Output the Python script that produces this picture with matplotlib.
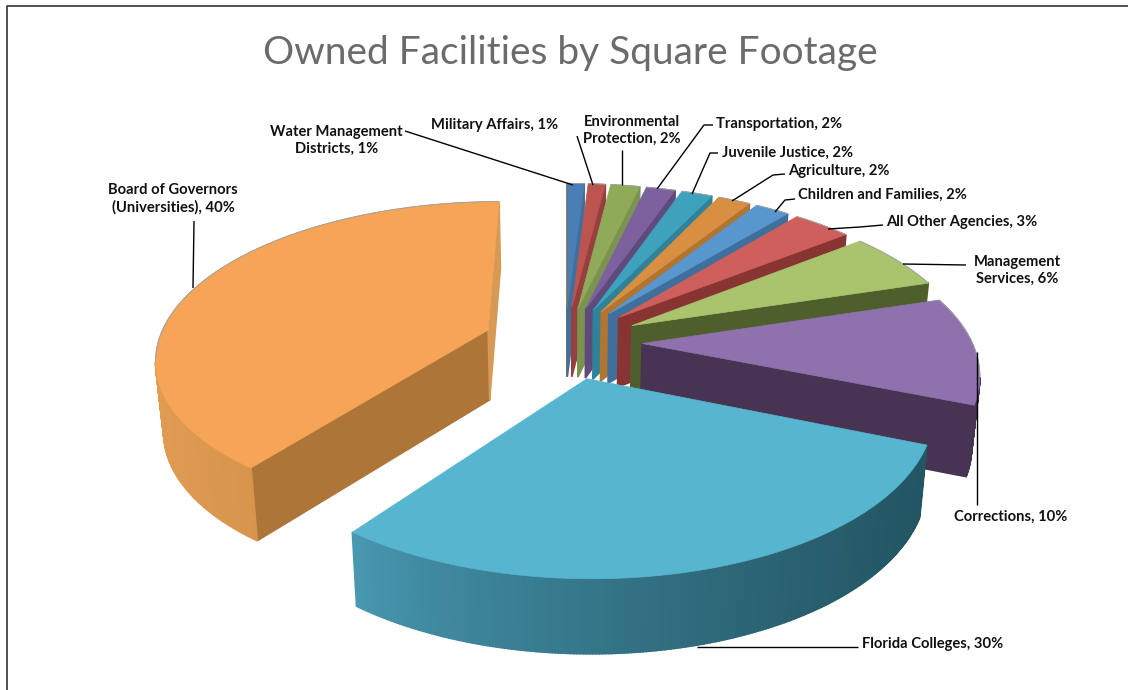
import matplotlib
matplotlib.use('Agg')
import matplotlib.pyplot as plt
import numpy as np
from matplotlib.colors import to_rgb

# Data
agencies = ['Water Management\nDistricts, 1%', 'Military Affairs, 1%', 'Environmental\nProtection, 2%',
            'Transportation, 2%', 'Juvenile Justice, 2%', 'Agriculture, 2%', 'Children and Families, 2%',
            'All Other Agencies, 3%', 'Management\nServices, 6%', 'Corrections, 10%',
            'Florida Colleges, 30%', 'Board of Governors\n(Universities), 40%']
# labels are rounded, the slices themselves read a little differently
shares = [1.0, 1.0, 1.7, 1.7, 1.8, 1.9, 2.0, 3.4, 5.9, 11.0, 29.4, 40.1]

top_colors = ['#4A7FB5', '#BC5450', '#8FAB5A', '#7D619F', '#3FA2BC', '#D98F42',
              '#5896CE', '#CE5F5C', '#A9C46C', '#8F72AD', '#57B5CF', '#F5A555']
cut_colors = ['#3F6F9E', '#96403D', '#7C9350', '#5F4A7C', '#2F8299', '#B07530',
              '#3F6F9C', '#873432', '#4F5F2C', '#463452', '#2A6272', '#D69A55']
start_cut_color = '#AE7538'
wall_left = ['#3F6F9E', '#96403D', '#7C9350', '#5F4A7C', '#2F8299', '#B07530',
             '#3F6F9C', '#873432', '#4F5F2C', '#6A5585', '#4899B2', '#E09C52']
wall_right = ['#3F6F9E', '#96403D', '#7C9350', '#5F4A7C', '#2F8299', '#B07530',
              '#3F6F9C', '#873432', '#4F5F2C', '#463452', '#235563', '#C98A42']

# Label placement in picture pixels: text anchor, alignment, leader path
label_xy = [(403, 140), (558, 125), (632, 130), (716, 124), (722, 153), (788, 171), (798, 195),
            (886, 222), (1061, 270), (1067, 517), (862, 644), (173, 199)]
label_ha = ['right', 'right', 'center', 'left', 'left', 'left', 'left',
            'left', 'right', 'right', 'left', 'center']
leaders = [[(405, 131), (573, 185)], [(577, 136), (593, 185)], [(622, 150), (622, 185)],
           [(713, 125), (704, 125), (657, 189)], [(718, 153), (710, 153), (692, 194)],
           [(785, 174), (773, 175), (732, 201)], [(795, 199), (785, 200), (775, 212)],
           [(883, 225), (860, 227), (828, 229)], [(966, 265), (903, 264)],
           [(977, 352), (977, 505)], [(858, 647), (697, 647)], [(193, 288), (194, 221)]]

# Pie projection settings
cx, cy = 565, 342
scale_x, scale_y = 335, 156
persp = 0.17
explode = [0.23] * 10 + [0.235, 0.245]
radius = [1.0] * 9 + [0.985, 0.98, 0.985]
depth = 70
taper = 0.02


def project(x, y):
    w = 1 + persp * y
    return cx + scale_x * x / w, cy - scale_y * y / w


def wall_depth(x, y):
    return depth / (1 + persp * y) ** 0.3


fig = plt.figure(figsize=(11.28, 6.9), dpi=100)
ax = fig.add_axes([0, 0, 1, 1])
ax.set_xlim(0, 1128)
ax.set_ylim(690, 0)
ax.axis('off')

# Slide frame
ax.plot([7, 7, 1128], [690, 6, 6], color='#333333', lw=1.2)

total = sum(shares)
start = 0
for i, value in enumerate(shares):
    theta = np.radians(np.linspace(start, start + value, max(int(value * 8), 6)) * 360 / total)
    start += value
    mid = theta.mean()
    tip_x, tip_y = explode[i] * np.sin(mid), explode[i] * np.cos(mid)
    # outline of the top face: tip, then clockwise along the rim
    xs = np.concatenate([[tip_x], tip_x + radius[i] * np.sin(theta), [tip_x]])
    ys = np.concatenate([[tip_y], tip_y + radius[i] * np.cos(theta), [tip_y]])
    px, py = project(xs, ys)
    drop = wall_depth(xs, ys)
    bx = cx + (px - cx) * (1 - taper)
    lo, hi = px.min(), px.max()
    left, right = np.array(to_rgb(wall_left[i])), np.array(to_rgb(wall_right[i]))

    # side walls: an edge faces the viewer when it runs right to left on screen
    for j in range(len(px) - 1):
        if px[j + 1] >= px[j]:
            continue
        if j == 0:
            color = start_cut_color
        elif j == len(px) - 2:
            color = cut_colors[i]
        else:
            t = (0.5 * (px[j] + px[j + 1]) - lo) / max(hi - lo, 1)
            color = left + (right - left) * t ** 0.75
        ax.fill([px[j], px[j + 1], bx[j + 1], bx[j]],
                [py[j], py[j + 1], py[j + 1] + drop[j + 1], py[j] + drop[j]],
                facecolor=color, edgecolor=color, lw=1.2, zorder=3 + i)

    ax.fill(px, py, facecolor=top_colors[i], edgecolor=top_colors[i], lw=0.5, zorder=3 + i)
    # thin grey rim on the far side only
    for j in range(1, len(px) - 2):
        if px[j + 1] >= px[j]:
            ax.plot(px[j:j + 2], py[j:j + 2], color='#a0a0a0', lw=0.6, zorder=3 + i)

# Labels and leader lines
for name, xy, ha, path in zip(agencies, label_xy, label_ha, leaders):
    path = np.array(path)
    ax.plot(path[:, 0], path[:, 1], color='black', lw=1, zorder=30, solid_capstyle='butt')
    ax.text(xy[0], xy[1], name, ha=ha, va='center', family='Lato', weight='bold', fontsize=10.6,
            color='#111111', linespacing=1.25, zorder=31, multialignment='center')

ax.text(570, 53, 'Owned Facilities by Square Footage', ha='center', va='center', family='Lato',
        fontsize=28, color='#6b6b6b')

fig.savefig('out.png', dpi=100)
